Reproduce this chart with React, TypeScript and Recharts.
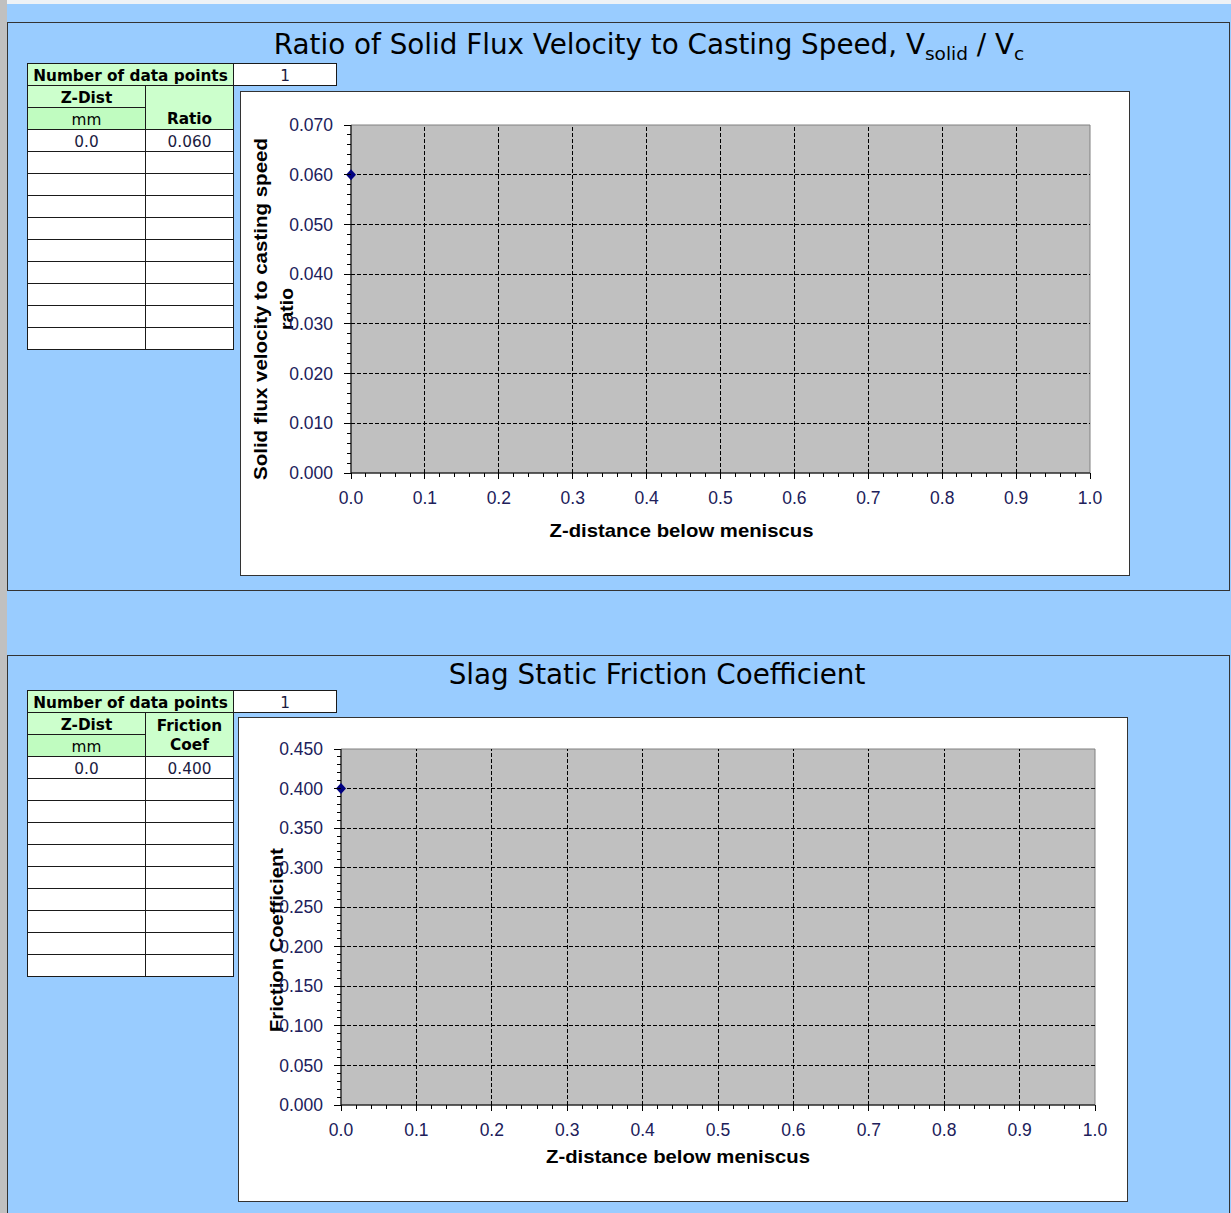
import React from 'react';
import {
  ScatterChart,
  Scatter,
  XAxis,
  YAxis,
  ReferenceArea,
  ReferenceLine,
  Label,
} from 'recharts';

// table + chart data
const ratioZDist = [0.0];
const ratioValues = [0.06];
const frictionZDist = [0.0];
const frictionValues = [0.4];

// axis ticks (major)
const zTicks = [0, 0.1, 0.2, 0.3, 0.4, 0.5, 0.6, 0.7, 0.8, 0.9, 1.0];
const ratioTicks = [0, 0.01, 0.02, 0.03, 0.04, 0.05, 0.06, 0.07];
const frictionTicks = [0, 0.05, 0.1, 0.15, 0.2, 0.25, 0.3, 0.35, 0.4, 0.45];

const TABLE_ROWS = 10;

const UI_FONT = '"DejaVu Sans", Verdana, sans-serif';
const TICK_FONT = '"Liberation Sans", Arial, sans-serif';
const TICK_COLOR = '#20205a';
const GREEN = '#ccffcc';
const GREEN_2 = '#c0fcc0';
const BLUE_BG = '#99ccff';

// split each major interval into 5 minor steps
function withMinor(major: number[], parts = 5) {
  const out: number[] = [];
  for (let i = 0; i < major.length - 1; i++) {
    const step = (major[i + 1] - major[i]) / parts;
    for (let k = 0; k < parts; k++) out.push(+(major[i] + k * step).toFixed(6));
  }
  out.push(major[major.length - 1]);
  return out;
}

const isMajor = (major: number[], v: number) => major.some((m) => Math.abs(m - v) < 1e-9);

const makeXTick = (major: number[]) => (props: any) => {
  const { x, y, payload } = props;
  const big = isMajor(major, payload.value);
  return (
    <g>
      <line x1={x} x2={x} y1={y} y2={y + (big ? 6 : 4)} stroke="#000" shapeRendering="crispEdges" />
      {big && (
        <text
          x={x}
          y={y + 25}
          dy="0.35em"
          textAnchor="middle"
          fontSize={17.5}
          fontFamily={TICK_FONT}
          fill={TICK_COLOR}
        >
          {payload.value.toFixed(1)}
        </text>
      )}
    </g>
  );
};

const makeYTick = (major: number[], decimals: number) => (props: any) => {
  const { x, y, payload } = props;
  const big = isMajor(major, payload.value);
  return (
    <g>
      <line x1={x - (big ? 7 : 4)} x2={x} y1={y} y2={y} stroke="#000" shapeRendering="crispEdges" />
      {big && (
        <text
          x={x - 18}
          y={y}
          dy="0.35em"
          textAnchor="end"
          fontSize={17.5}
          fontFamily={TICK_FONT}
          fill={TICK_COLOR}
        >
          {payload.value.toFixed(decimals)}
        </text>
      )}
    </g>
  );
};

const Diamond = (props: any) => {
  const { cx, cy } = props;
  return (
    <path
      d={`M${cx},${cy - 5.5} L${cx + 5},${cy} L${cx},${cy + 5.5} L${cx - 5},${cy} Z`}
      fill="#000080"
    />
  );
};

interface TitleLine {
  text: string;
  x: number;
  length: number;
}

interface ChartProps {
  zDist: number[];
  values: number[];
  yTicks: number[];
  yDecimals: number;
  yAxisWidth: number;
  xAxisHeight: number;
  margin: { top: number; right: number; left: number; bottom: number };
  xTitleDx: number;
  xTitleDy: number;
  yTitleLines: TitleLine[];
  yTitleDy: number;
}

function FluxChart(p: ChartProps) {
  const data = p.zDist.map((z, i) => ({ z, v: p.values[i] }));
  const yMax = p.yTicks[p.yTicks.length - 1];
  const xMax = zTicks[zTicks.length - 1];

  return (
    <ScatterChart width={888} height={483} margin={p.margin}>
      <XAxis
        type="number"
        dataKey="z"
        domain={[0, xMax]}
        ticks={withMinor(zTicks)}
        interval={0}
        tick={makeXTick(zTicks)}
        tickLine={false}
        tickSize={0}
        tickMargin={0}
        axisLine={{ stroke: '#000' }}
        height={p.xAxisHeight}
      >
        <Label
          content={(lp: any) => {
            const vb = lp.viewBox;
            return (
              <text
                x={vb.x + vb.width / 2 + p.xTitleDx}
                y={vb.y + p.xTitleDy}
                dy="0.35em"
                textAnchor="middle"
                fontSize={19}
                fontWeight="bold"
                fontFamily={TICK_FONT}
                textLength={264}
                lengthAdjust="spacingAndGlyphs"
                fill="#000"
              >
                Z-distance below meniscus
              </text>
            );
          }}
        />
      </XAxis>
      <YAxis
        type="number"
        dataKey="v"
        domain={[0, yMax]}
        ticks={withMinor(p.yTicks)}
        interval={0}
        tick={makeYTick(p.yTicks, p.yDecimals)}
        tickLine={false}
        tickSize={0}
        tickMargin={0}
        axisLine={{ stroke: '#000' }}
        width={p.yAxisWidth}
      >
        <Label
          content={(lp: any) => {
            const vb = lp.viewBox;
            const cy = vb.y + vb.height / 2 + p.yTitleDy;
            return (
              <g>
                {p.yTitleLines.map((l) => (
                  <text
                    key={l.text}
                    x={l.x}
                    y={cy}
                    dy="0.35em"
                    transform={`rotate(-90, ${l.x}, ${cy})`}
                    textAnchor="middle"
                    fontSize={19}
                    fontWeight="bold"
                    fontFamily={TICK_FONT}
                    textLength={l.length}
                    lengthAdjust="spacingAndGlyphs"
                    fill="#000"
                  >
                    {l.text}
                  </text>
                ))}
              </g>
            );
          }}
        />
      </YAxis>
      <ReferenceArea
        x1={0}
        x2={xMax}
        y1={0}
        y2={yMax}
        fill="#c0c0c0"
        fillOpacity={1}
        stroke="#808080"
        strokeWidth={1}
      />
      {zTicks.slice(1, -1).map((t) => (
        <ReferenceLine
          key={`vx-${t}`}
          x={t}
          stroke="#000"
          strokeDasharray="4 2"
          shapeRendering="crispEdges"
        />
      ))}
      {p.yTicks.slice(1, -1).map((t) => (
        <ReferenceLine
          key={`hy-${t}`}
          y={t}
          stroke="#000"
          strokeDasharray="4 2"
          shapeRendering="crispEdges"
        />
      ))}
      <Scatter data={data} shape={Diamond} isAnimationActive={false} />
    </ScatterChart>
  );
}

function Cell(props: {
  x: number;
  y: number;
  w: number;
  h: number;
  bg: string;
  bold?: boolean;
  align?: 'center' | 'flex-end';
  children?: React.ReactNode;
}) {
  return (
    <div
      style={{
        position: 'absolute',
        left: props.x,
        top: props.y,
        width: props.w + 1,
        height: props.h + 1,
        boxSizing: 'border-box',
        border: '1px solid #1a1a1a',
        background: props.bg,
        display: 'flex',
        flexDirection: 'column',
        alignItems: 'center',
        justifyContent: props.align || 'center',
        paddingTop: props.align === 'flex-end' ? 0 : 3,
        fontFamily: UI_FONT,
        fontSize: 15.3,
        fontWeight: props.bold ? 'bold' : 'normal',
        lineHeight: '19px',
        color: props.bold ? '#000' : '#1a1a40',
        whiteSpace: 'nowrap',
        overflow: 'hidden',
      }}
    >
      {props.children}
    </div>
  );
}

function DataTable(props: {
  top: number;
  header: React.ReactNode;
  headerAlign: 'center' | 'flex-end';
  zDist: number[];
  values: number[];
  decimals: number;
}) {
  const { top } = props;
  const rows = Array.from({ length: TABLE_ROWS }, (_, i) => i);
  return (
    <>
      <Cell x={27} y={top} w={206} h={22} bg={GREEN} bold>
        Number of data points
      </Cell>
      <Cell x={233} y={top} w={103} h={22} bg="#fff">
        {props.zDist.length}
      </Cell>
      <Cell x={27} y={top + 22} w={118} h={22} bg={GREEN} bold>
        Z-Dist
      </Cell>
      <Cell x={27} y={top + 44} w={118} h={22} bg={GREEN_2}>
        <span style={{ color: '#000' }}>mm</span>
      </Cell>
      <Cell x={145} y={top + 22} w={88} h={44} bg={GREEN} bold align={props.headerAlign}>
        {props.header}
      </Cell>
      {rows.map((i) => (
        <React.Fragment key={i}>
          <Cell x={27} y={top + 66 + 22 * i} w={118} h={22} bg="#fff">
            {i < props.zDist.length ? props.zDist[i].toFixed(1) : ''}
          </Cell>
          <Cell x={145} y={top + 66 + 22 * i} w={88} h={22} bg="#fff">
            {i < props.values.length ? props.values[i].toFixed(props.decimals) : ''}
          </Cell>
        </React.Fragment>
      ))}
    </>
  );
}

const titleStyle: React.CSSProperties = {
  position: 'absolute',
  width: 900,
  textAlign: 'center',
  fontFamily: UI_FONT,
  fontSize: 27.8,
  lineHeight: '32px',
  color: '#000',
  whiteSpace: 'nowrap',
};

const subStyle: React.CSSProperties = {
  fontSize: 18.5,
  position: 'relative',
  top: 6,
  lineHeight: 0,
};

export default function App() {
  return (
    <div
      style={{
        position: 'absolute',
        left: 0,
        top: 0,
        width: 1231,
        height: 1213,
        background: BLUE_BG,
        overflow: 'hidden',
      }}
    >
      <div style={{ position: 'absolute', left: 0, top: 0, width: 1231, height: 4, background: '#eef2f6' }} />
      <div style={{ position: 'absolute', left: 0, top: 0, width: 7, height: 1213, background: '#c0c0c0' }} />

      {/* panel 1 */}
      <div
        style={{
          position: 'absolute',
          left: 7,
          top: 22,
          width: 1223,
          height: 569,
          boxSizing: 'border-box',
          border: '1px solid #333',
        }}
      />
      <div style={{ ...titleStyle, left: 649 - 450, top: 29 }}>
        Ratio of Solid Flux Velocity to Casting Speed, V<span style={subStyle}>solid</span> / V
        <span style={subStyle}>c</span>
      </div>
      <DataTable
        top={63}
        header={<span style={{ marginTop: 3 }}>Ratio</span>}
        headerAlign="flex-end"
        zDist={ratioZDist}
        values={ratioValues}
        decimals={3}
      />
      <div
        style={{
          position: 'absolute',
          left: 240,
          top: 91,
          width: 890,
          height: 485,
          boxSizing: 'border-box',
          border: '1px solid #333',
          background: '#fff',
        }}
      >
        <FluxChart
          zDist={ratioZDist}
          values={ratioValues}
          yTicks={ratioTicks}
          yDecimals={3}
          yAxisWidth={110}
          xAxisHeight={102}
          margin={{ top: 33, right: 39, left: 0, bottom: 0 }}
          xTitleDx={-39}
          xTitleDy={57}
          yTitleLines={[
            { text: 'Solid flux velocity to casting speed', x: 19, length: 342 },
            { text: 'ratio', x: 45, length: 42 },
          ]}
          yTitleDy={10}
        />
      </div>

      {/* panel 2 */}
      <div
        style={{
          position: 'absolute',
          left: 7,
          top: 655,
          width: 1223,
          height: 600,
          boxSizing: 'border-box',
          border: '1px solid #333',
        }}
      />
      <div style={{ ...titleStyle, left: 657 - 450, top: 659 }}>Slag Static Friction Coefficient</div>
      <DataTable
        top={690}
        header={
          <>
            <span>Friction</span>
            <span>Coef</span>
          </>
        }
        headerAlign="center"
        zDist={frictionZDist}
        values={frictionValues}
        decimals={3}
      />
      <div
        style={{
          position: 'absolute',
          left: 238,
          top: 717,
          width: 890,
          height: 485,
          boxSizing: 'border-box',
          border: '1px solid #333',
          background: '#fff',
        }}
      >
        <FluxChart
          zDist={frictionZDist}
          values={frictionValues}
          yTicks={frictionTicks}
          yDecimals={3}
          yAxisWidth={102}
          xAxisHeight={96}
          margin={{ top: 31, right: 32, left: 0, bottom: 0 }}
          xTitleDx={-40}
          xTitleDy={51}
          yTitleLines={[{ text: 'Friction Coefficient', x: 37, length: 184 }]}
          yTitleDy={13}
        />
      </div>
    </div>
  );
}
